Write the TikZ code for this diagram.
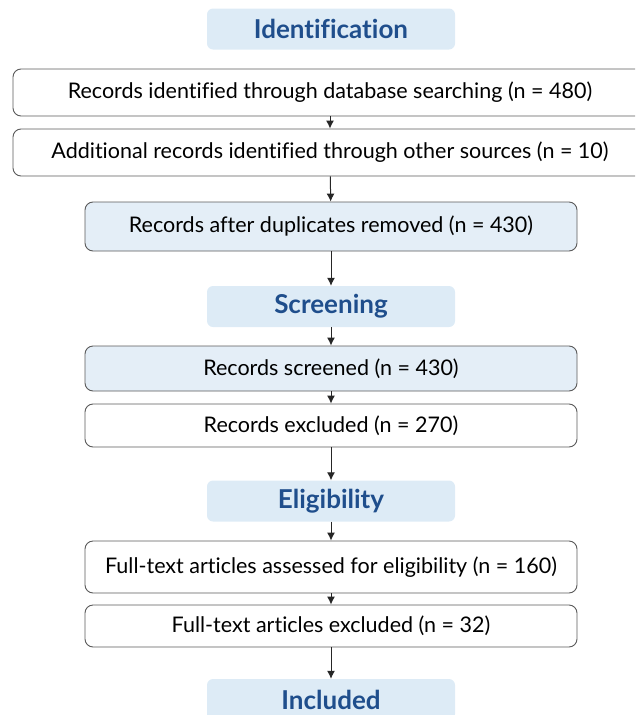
\documentclass[tikz,border=0pt]{standalone}
\usepackage{fontspec}
\setmainfont[Ligatures=CommonOff]{Lato}
\usepackage{xcolor}
\usepackage{tikz}
\usetikzlibrary{arrows.meta}
\definecolor{head}{HTML}{1F4E8C}
\definecolor{pale}{HTML}{DDEBF6}
\definecolor{boxblue}{HTML}{E4EEF7}
\definecolor{edge}{HTML}{5A5A5A}
\tikzset{
  hdr/.style={fill=pale, rounded corners=6pt, minimum width=248, minimum height=41,
    text=head, font=\fontsize{26}{29}\selectfont\bfseries},
  box/.style={draw=edge, fill=white, line width=0.9pt, rounded corners=8pt,
    minimum width=492, minimum height=46, font=\fontsize{21.5}{25}\selectfont},
  wide/.style={box, minimum width=634},
  bluebox/.style={box, fill=boxblue},
  arr/.style={draw=black!85, line width=1pt, -{Latex[length=8pt,width=8pt]}}
}

\begin{document}
\begin{tikzpicture}[x=1pt,y=-1pt]
\useasboundingbox (0,0) rectangle (635,715);
\clip (0,0) rectangle (635,715);
% identification
\node[hdr] (id) at (331,29) {Identification};
\node[wide, minimum height=47] (db) at (330,92.5) {Records identified through database searching (n = 480)};
\node[wide, minimum height=47] (other) at (330,152.5) {Additional records identified through other sources (n = 10)};
\node[bluebox, minimum height=49] (dup) at (331,226.5) {Records after duplicates removed (n = 430)};
\draw[arr] (db) -- (other);
\draw[arr] (other) -- (dup);

% screening
\node[hdr] (scr) at (331,306.5) {Screening};
\node[bluebox, minimum height=45] (screened) at (331,368.5) {Records screened (n = 430)};
\node[box, minimum height=43] (excl) at (331,425.5) {Records excluded (n = 270)};
\draw[arr] (dup) -- (scr);
\draw[arr] (scr) -- (screened);
\draw[arr] (screened) -- (excl);

% eligibility
\node[hdr] (elig) at (331,501) {Eligibility};
\node[box, minimum height=52] (full) at (331,567) {Full-text articles assessed for eligibility (n = 160)};
\node[box, minimum height=42] (fullex) at (331,626) {Full-text articles excluded (n = 32)};
\draw[arr] (excl) -- (elig);
\draw[arr] (elig) -- (full);
\draw[arr] (full) -- (fullex);

% included
\node[hdr] (inc) at (331,699.5) {Included};
\draw[arr] (fullex) -- (inc);
\end{tikzpicture}
\end{document}
